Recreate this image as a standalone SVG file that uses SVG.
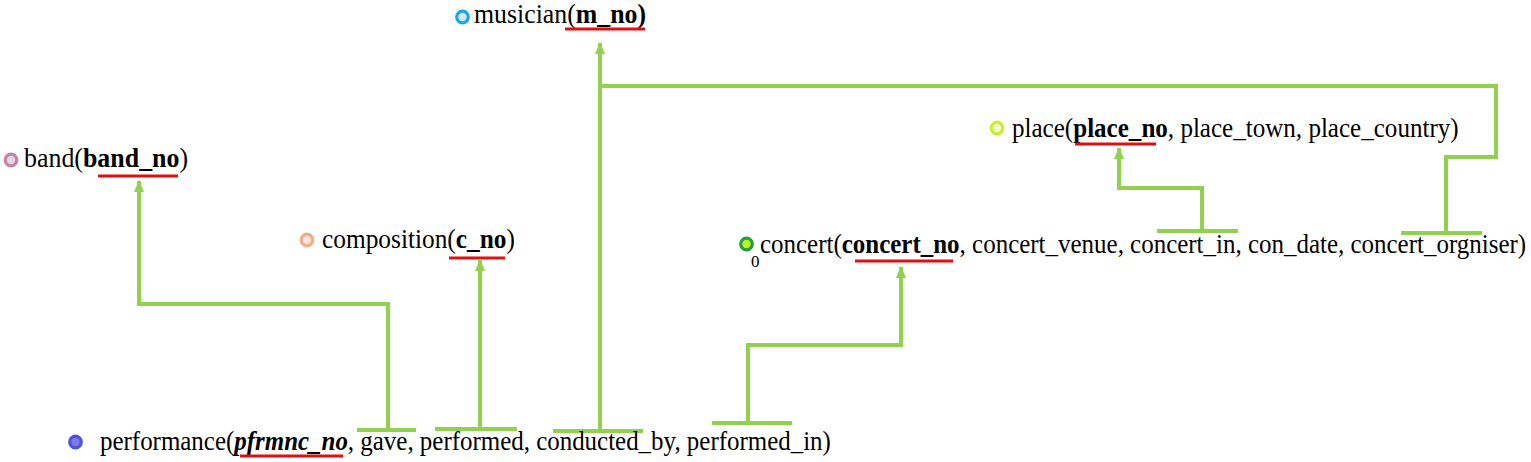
<svg xmlns="http://www.w3.org/2000/svg" width="1531" height="462" viewBox="0 0 1531 462">
<defs>
<marker id="arr" viewBox="0 0 12 10" markerWidth="12" markerHeight="10" refX="11" refY="5" orient="auto" markerUnits="userSpaceOnUse">
<path d="M0,0 L12,5 L0,10 Z" fill="#92d050"/>
</marker>
</defs>
<style>
.t{font-family:"Liberation Serif","Times New Roman",serif;font-size:28px;fill:#000}
.b{font-weight:bold}
.bi{font-weight:bold;font-style:italic}
.ul{stroke:#e01010;stroke-width:3;fill:none}
.c{fill:none;stroke:#92d050;stroke-width:4}
.bar{stroke:#92d050;stroke-width:4}
.dot{stroke-width:3.2}
</style>
<rect width="1531" height="462" fill="#fff"/>
<g id="connectors">
<path class="c" d="M388,430 V304 H139 V181" marker-end="url(#arr)"/>
<line class="bar" x1="357" y1="430" x2="416" y2="430"/>
<path class="c" d="M480,429 V260" marker-end="url(#arr)"/>
<line class="bar" x1="435" y1="429" x2="517" y2="429"/>
<path class="c" d="M600,431 V43" marker-end="url(#arr)"/>
<line class="bar" x1="553" y1="431" x2="643" y2="431"/>
<path class="c" d="M600,86 H1496 V157 H1446 V233"/>
<line class="bar" x1="1401" y1="233" x2="1482" y2="233"/>
<path class="c" d="M748,423 V345 H901 V267" marker-end="url(#arr)"/>
<line class="bar" x1="712" y1="423" x2="792" y2="423"/>
<path class="c" d="M1202,231 V188 H1119 V148" marker-end="url(#arr)"/>
<line class="bar" x1="1157" y1="231" x2="1238" y2="231"/>
</g>
<g id="node-musician">
<circle class="dot" cx="462.5" cy="17" r="5.8" fill="#d8e6f0" stroke="#1aa8e0"/>
<text class="t" transform="translate(474,23) scale(0.922,1)">musician(<tspan class="b">m_no)</tspan></text>
<line class="ul" x1="565" y1="29" x2="645" y2="29"/>
</g>
<g id="node-band">
<circle class="dot" cx="11" cy="160" r="5.8" fill="#e2d6e2" stroke="#c484a4"/>
<text class="t" transform="translate(24,167) scale(0.925,1)">band(<tspan class="b">band_no</tspan>)</text>
<line class="ul" x1="98" y1="176" x2="178" y2="176"/>
</g>
<g id="node-composition">
<circle class="dot" cx="307" cy="240" r="5.8" fill="#f8e2da" stroke="#eeae8c"/>
<text class="t" transform="translate(322,248) scale(0.906,1)">composition(<tspan class="b">c_no</tspan>)</text>
<line class="ul" x1="449" y1="258" x2="505" y2="258"/>
</g>
<g id="node-place">
<circle class="dot" cx="997" cy="128" r="5.8" fill="#f2fcd2" stroke="#c8ee30"/>
<text class="t" transform="translate(1012,137) scale(0.895,1)">place(<tspan class="b">place_no</tspan>, place_town, place_country)</text>
<line class="ul" x1="1075" y1="144" x2="1156" y2="144"/>
</g>
<g id="node-concert">
<circle class="dot" cx="746.5" cy="244" r="5.8" fill="#c4f020" stroke="#22a040"/>
<text class="t" transform="translate(760,253) scale(0.892,1)">concert(<tspan class="b">concert_no</tspan>, concert_venue, concert_in, con_date, concert_orgniser)</text>
<text class="t" x="751" y="267" style="font-size:17px">0</text>
<line class="ul" x1="855" y1="261" x2="953" y2="261"/>
</g>
<g id="node-performance">
<circle class="dot" cx="75.5" cy="442" r="5.8" fill="#7a7aee" stroke="#5252d8"/>
<text class="t" transform="translate(100,450) scale(0.891,1)">performance(<tspan class="bi">pfrmnc_no</tspan>, gave, performed, conducted_by, performed_in)</text>
<line class="ul" x1="240" y1="456" x2="343" y2="456"/>
</g>
</svg>
